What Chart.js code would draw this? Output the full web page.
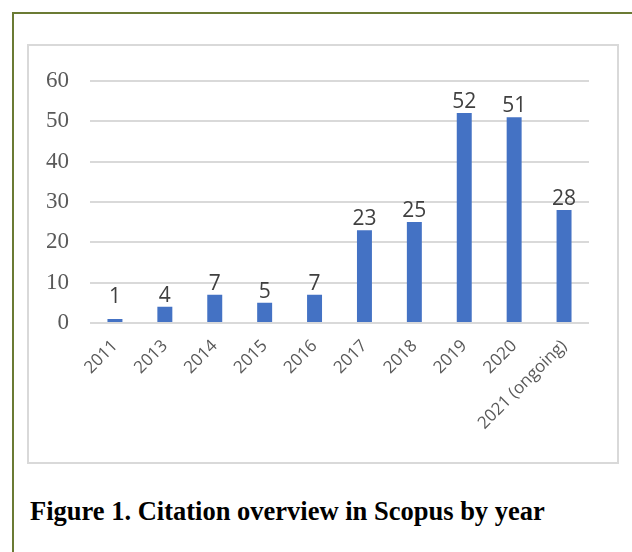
<!DOCTYPE html>
<html lang="en">
<head>
  <meta charset="UTF-8">
  <title>Figure 1. Citation overview in Scopus by year</title>
  <script src="https://cdn.jsdelivr.net/npm/chart.js"></script>
  <style>
    * { box-sizing:border-box; }
    body { margin:0; background:#fff; width:632px; height:552px; overflow:hidden; position:relative; }
    /* olive frame, only top and left edges are visible */
    #frame {
      position:absolute; left:12px; top:12px; width:640px; height:560px;
      border-left:2px solid #6b7b34; border-top:2px solid #6b7b34;
    }
    /* chart box */
    #chartBox {
      position:absolute; left:27px; top:44px; width:592px; height:420px;
      border:2px solid #d9d9d9; background:#fff;
    }
    #caption {
      position:absolute; left:30px; top:496px; margin:0;
      font-family:'Liberation Serif', 'Times New Roman', serif;
      font-weight:bold; font-size:26.5px; line-height:30px; color:#000; white-space:nowrap;
    }
  </style>
</head>
<body>
<div id="frame"></div>
<div id="chartBox"><canvas id="chartCitas" width="588" height="416"></canvas></div>
<p id="caption">Figure 1. Citation overview in Scopus by year</p>

<script>
  // data
  const years     = ['2011','2013','2014','2015','2016','2017','2018','2019','2020','2021 (ongoing)'];
  const citations = [1, 4, 7, 5, 7, 23, 25, 52, 51, 28];
  const yTicks    = [0, 10, 20, 30, 40, 50, 60];

  // value labels above every bar (kept clear of the zero line for tiny bars)
  const barLabels = {
    id: 'barLabels',
    afterDatasetsDraw(chart){
      const ctx = chart.ctx;
      const meta = chart.getDatasetMeta(0);
      const base = chart.scales.y.getPixelForValue(0);
      ctx.save();
      ctx.font = '21px "Open Sans", sans-serif';
      ctx.fillStyle = '#404040';
      ctx.textAlign = 'center';
      ctx.textBaseline = 'alphabetic';
      meta.data.forEach((bar, i) => {
        const y = Math.min(bar.y - 5, base - 20);
        ctx.fillText(citations[i], bar.x, y);
      });
      ctx.restore();
    }
  };

  new Chart(document.getElementById('chartCitas'), {
    type: 'bar',
    data: {
      labels: years,
      datasets: [{
        data: citations,
        backgroundColor: '#4472c4',
        barPercentage: 0.3,
        categoryPercentage: 1
      }]
    },
    options: {
      responsive: false,
      animation: false,
      layout: { padding: { top: 28, right: 28, left: 0, bottom: 0 } },
      plugins: { legend: { display:false }, tooltip: { enabled:false } },
      scales: {
        x: {
          grid: { display:false, drawTicks:false },
          border: { display:false },
          ticks: {
            autoSkip:false, minRotation:45, maxRotation:45, padding:13,
            color:'#595959', font: { family:'"Open Sans", sans-serif', size:17 }
          },
          afterFit(scale){ scale.height = 139; }
        },
        y: {
          min: 0, max: 60,
          afterBuildTicks(scale){ scale.ticks = yTicks.map(v => ({ value:v })); },
          grid: { color:'#d9d9d9', lineWidth:2, drawTicks:false },
          border: { display:false },
          ticks: {
            padding:21, color:'#595959',
            font: { family:'"Liberation Serif", serif', size:23 }
          },
          afterFit(scale){ scale.width = 61; }
        }
      }
    },
    plugins: [barLabels]
  });
</script>
</body>
</html>
